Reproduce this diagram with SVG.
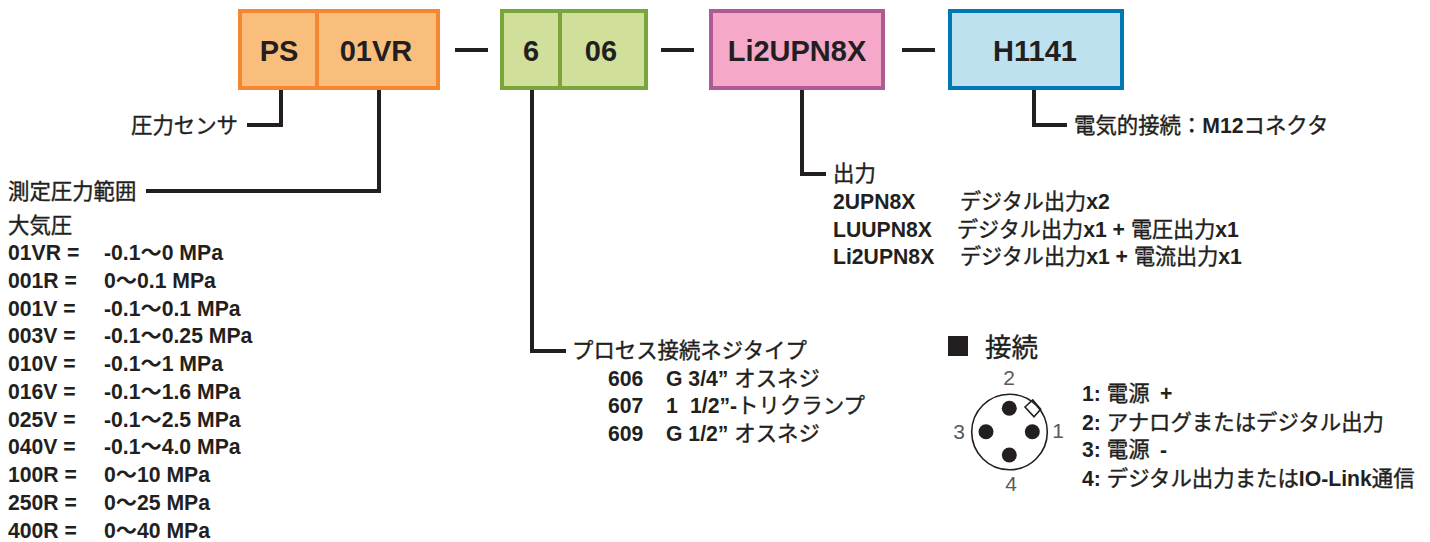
<svg xmlns="http://www.w3.org/2000/svg" width="1430" height="542" viewBox="0 0 1430 542">
<style>
text{font-family:"Liberation Sans","Noto Sans CJK JP",sans-serif;fill:#231f20}
.l{font-size:21.2px;font-weight:bold}
.k{font-size:21.4px;font-weight:400;stroke:#231f20;stroke-width:.4px}
.m{font-size:21.1px;font-weight:400;stroke:#231f20;stroke-width:.4px}
.b{font-size:29px;font-weight:bold;text-anchor:middle}
.n{font-size:21px;text-anchor:middle;fill:#58595b}
.c{fill:none;stroke:#231f20;stroke-width:4}
.w{fill:none;stroke:#231f20;stroke-width:1.6}
</style>
<g id="connectors">
<path class="c" d="M281 90V125H247"/>
<path class="c" d="M379 90V191H146"/>
<path class="c" d="M532 90V351H566"/>
<path class="c" d="M802 90V174H826"/>
<path class="c" d="M1034 90V125H1067"/>
<path class="c" d="M455 50H488"/>
<path class="c" d="M661 50H694"/>
<path class="c" d="M902 50H935"/>
</g>
<g id="node-ps"><rect x="240" y="11" width="77" height="77" fill="#f9be7c" stroke="#f58632" stroke-width="4"/><text class="b" x="279" y="61">PS</text></g>
<g id="node-01vr"><rect x="317" y="11" width="121" height="77" fill="#f9be7c" stroke="#f58632" stroke-width="4"/><text class="b" x="376" y="61">01VR</text></g>
<g id="node-6"><rect x="502" y="11" width="58" height="77" fill="#d0e09a" stroke="#7aa53c" stroke-width="4"/><text class="b" x="531" y="61">6</text></g>
<g id="node-06"><rect x="560" y="11" width="86" height="77" fill="#d0e09a" stroke="#7aa53c" stroke-width="4"/><text class="b" x="601" y="61">06</text></g>
<g id="node-output"><rect x="711" y="11" width="172" height="77" fill="#f5a8c8" stroke="#ad5a96" stroke-width="4"/><text class="b" x="797" y="61">Li2UPN8X</text></g>
<g id="node-conn"><rect x="950" y="11" width="172" height="77" fill="#bee1f0" stroke="#0078b4" stroke-width="4"/><text class="b" x="1035" y="61">H1141</text></g>
<g id="label-sensor"><text class="k" x="131" y="133">圧力センサ</text></g>
<g id="label-range">
<text class="k" x="8" y="199">測定圧力範囲</text>
<text class="k" x="8" y="233">大気圧</text>
<text class="l" x="8" y="260">01VR =</text><text class="l" x="104" y="260">-0.1～0 MPa</text>
<text class="l" x="8" y="288">001R =</text><text class="l" x="104" y="288">0～0.1 MPa</text>
<text class="l" x="8" y="316">001V =</text><text class="l" x="104" y="316">-0.1～0.1 MPa</text>
<text class="l" x="8" y="343">003V =</text><text class="l" x="104" y="343">-0.1～0.25 MPa</text>
<text class="l" x="8" y="371">010V =</text><text class="l" x="104" y="371">-0.1～1 MPa</text>
<text class="l" x="8" y="399">016V =</text><text class="l" x="104" y="399">-0.1～1.6 MPa</text>
<text class="l" x="8" y="427">025V =</text><text class="l" x="104" y="427">-0.1～2.5 MPa</text>
<text class="l" x="8" y="454">040V =</text><text class="l" x="104" y="454">-0.1～4.0 MPa</text>
<text class="l" x="8" y="482">100R =</text><text class="l" x="104" y="482">0～10 MPa</text>
<text class="l" x="8" y="510">250R =</text><text class="l" x="104" y="510">0～25 MPa</text>
<text class="l" x="8" y="538">400R =</text><text class="l" x="104" y="538">0～40 MPa</text>
</g>
<g id="label-process">
<text class="k" x="572" y="358">プロセス接続ネジタイプ</text>
<text class="l" x="608" y="386">606</text><text class="l" x="666" y="386">G 3/4” <tspan class="k">オスネジ</tspan></text>
<text class="l" x="608" y="413">607</text><text class="l" x="666" y="413">1</text><text class="l" x="690" y="413">1/2”-<tspan class="k">トリクランプ</tspan></text>
<text class="l" x="608" y="441">609</text><text class="l" x="666" y="441">G 1/2” <tspan class="k">オスネジ</tspan></text>
</g>
<g id="label-output">
<text class="k" x="833" y="181">出力</text>
<text class="l" x="833" y="209">2UPN8X</text><text class="l" x="960" y="209"><tspan class="m">デジタル出力</tspan>x2</text>
<text class="l" x="833" y="237">LUUPN8X</text><text class="l" x="957" y="237"><tspan class="m">デジタル出力</tspan>x1 + <tspan class="m">電圧出力</tspan>x1</text>
<text class="l" x="833" y="264">Li2UPN8X</text><text class="l" x="960" y="264"><tspan class="m">デジタル出力</tspan>x1 + <tspan class="m">電流出力</tspan>x1</text>
</g>
<g id="label-connector"><text class="l" x="1074" y="133"><tspan class="k">電気的接続：</tspan>M12<tspan class="k">コネクタ</tspan></text></g>
<g id="pinout">
<rect x="948" y="336" width="20" height="20" fill="#231f20"/>
<text x="985" y="357" font-size="26.500" stroke="#231f20" stroke-width=".4" fill="#231f20">接続</text>
<circle cx="1009.500" cy="432" r="37.800" class="w"/>
<circle cx="1009.300" cy="408.300" r="7.500" fill="#231f20"/>
<circle cx="1009.300" cy="455" r="7.500" fill="#231f20"/>
<circle cx="986" cy="431.700" r="7.500" fill="#231f20"/>
<circle cx="1032.300" cy="431.700" r="7.500" fill="#231f20"/>
<path class="w" d="M1025 407L1032.700 400L1040.700 409.300L1034 416.700Z" fill="#fff"/>
<text class="n" x="1009" y="385">2</text>
<text class="n" x="1011" y="491">4</text>
<text class="n" x="959" y="439">3</text>
<text class="n" x="1058" y="438">1</text>
<text class="l" x="1082" y="401">1: <tspan class="k">電源</tspan></text><text class="l" x="1160" y="401">+</text>
<text class="l" x="1082" y="430">2: <tspan class="k">アナログまたはデジタル出力</tspan></text>
<text class="l" x="1082" y="457">3: <tspan class="k">電源</tspan></text><text class="l" x="1160" y="457">-</text>
<text class="l" x="1082" y="486">4: <tspan class="k">デジタル出力または</tspan>IO-Link<tspan class="k">通信</tspan></text>
</g>
</svg>
